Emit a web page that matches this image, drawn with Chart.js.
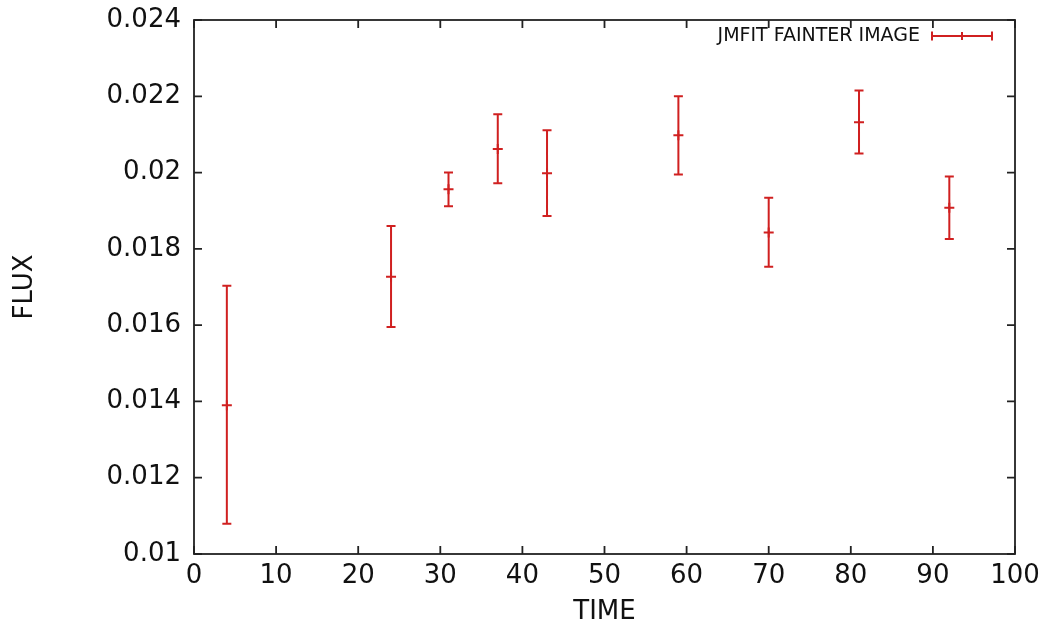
<!DOCTYPE html>
<html>
<head>
<meta charset="utf-8">
<script src="https://cdn.jsdelivr.net/npm/chart.js@4.4.0/dist/chart.umd.min.js"></script>
<style>
  html, body { margin: 0; padding: 0; background: #fff; }
  #wrap { width: 1051px; height: 628px; }
</style>
</head>
<body>
<div id="wrap"><canvas id="fluxChart" width="1051" height="628"></canvas></div>
<script>
  const times = [4, 24, 31, 37, 43, 59, 70, 81, 92];
  const flux = [0.0139, 0.01727, 0.01956, 0.02062, 0.01998, 0.02098, 0.01843, 0.02132, 0.01908];
  const fluxLow = [0.01079, 0.01595, 0.01912, 0.01972, 0.01886, 0.01995, 0.01753, 0.0205, 0.01826];
  const fluxHigh = [0.01703, 0.0186, 0.0200, 0.02153, 0.02111, 0.0220, 0.01934, 0.02215, 0.0199];
  const seriesName = "JMFIT FAINTER IMAGE";

  const red = "#d02020";
  const axisColor = "#222";
  const fontFamily = "'DejaVu Sans', sans-serif";

  // gnuplot-style frame with inward ticks on all four sides
  const framePlugin = {
    id: "frame",
    afterDraw(chart) {
      const { ctx, chartArea: a, scales } = chart;
      ctx.save();
      ctx.strokeStyle = axisColor;
      ctx.lineWidth = 1.8;
      ctx.strokeRect(a.left, a.top, a.right - a.left, a.bottom - a.top);
      const len = 8;
      ctx.beginPath();
      scales.x.ticks.forEach(t => {
        const px = scales.x.getPixelForValue(t.value);
        ctx.moveTo(px, a.bottom); ctx.lineTo(px, a.bottom - len);
        ctx.moveTo(px, a.top); ctx.lineTo(px, a.top + len);
      });
      scales.y.ticks.forEach(t => {
        const py = scales.y.getPixelForValue(t.value);
        ctx.moveTo(a.left, py); ctx.lineTo(a.left + len, py);
        ctx.moveTo(a.right, py); ctx.lineTo(a.right - len, py);
      });
      ctx.stroke();
      ctx.restore();
    }
  };

  // vertical error bars with caps, plus legend sample
  const errorBarPlugin = {
    id: "errorBars",
    afterDatasetsDraw(chart) {
      const { ctx, scales } = chart;
      const meta = chart.getDatasetMeta(0);
      const cap = 4.5;
      ctx.save();
      ctx.strokeStyle = red;
      ctx.lineWidth = 2;
      ctx.beginPath();
      meta.data.forEach((pt, i) => {
        const yLo = scales.y.getPixelForValue(fluxLow[i]);
        const yHi = scales.y.getPixelForValue(fluxHigh[i]);
        ctx.moveTo(pt.x, yLo); ctx.lineTo(pt.x, yHi);
        ctx.moveTo(pt.x - cap, yLo); ctx.lineTo(pt.x + cap, yLo);
        ctx.moveTo(pt.x - cap, yHi); ctx.lineTo(pt.x + cap, yHi);
      });
      ctx.stroke();

      // key in the top right corner
      const a = chart.chartArea;
      const ky = a.top + 16;
      const x0 = a.right - 83, x1 = a.right - 23;
      ctx.fillStyle = "#111";
      ctx.font = "19px " + fontFamily;
      ctx.textAlign = "right";
      ctx.textBaseline = "middle";
      ctx.fillText(seriesName, x0 - 12, ky);
      ctx.beginPath();
      ctx.moveTo(x0, ky); ctx.lineTo(x1, ky);
      ctx.moveTo(x0, ky - cap); ctx.lineTo(x0, ky + cap);
      ctx.moveTo(x1, ky - cap); ctx.lineTo(x1, ky + cap);
      const xm = (x0 + x1) / 2;
      ctx.moveTo(xm, ky - 4); ctx.lineTo(xm, ky + 4);
      ctx.stroke();
      ctx.restore();
    }
  };

  const ctx = document.getElementById("fluxChart").getContext("2d");
  new Chart(ctx, {
    type: "scatter",
    data: {
      datasets: [{
        label: seriesName,
        data: times.map((t, i) => ({ x: t, y: flux[i] })),
        pointStyle: "cross",
        pointRadius: 5,
        pointBorderWidth: 2,
        borderColor: red,
        backgroundColor: red,
        showLine: false
      }]
    },
    options: {
      responsive: false,
      animation: false,
      devicePixelRatio: 1,
      layout: { padding: { top: 20, right: 36, left: 0, bottom: 0 } },
      plugins: {
        legend: { display: false },
        tooltip: { enabled: false }
      },
      scales: {
        x: {
          type: "linear",
          min: 0,
          max: 100,
          grid: { display: false, drawTicks: false },
          border: { display: false },
          ticks: {
            stepSize: 10,
            padding: 7,
            color: "#111",
            font: { family: fontFamily, size: 26 }
          },
          title: {
            display: true,
            text: "TIME",
            color: "#111",
            padding: 0,
            font: { family: fontFamily, size: 26 }
          },
          afterFit(scale) { scale.height = 74; }
        },
        y: {
          min: 0.01,
          max: 0.024,
          grid: { display: false, drawTicks: false },
          border: { display: false },
          ticks: {
            stepSize: 0.002,
            padding: 13,
            color: "#111",
            font: { family: fontFamily, size: 26, lineHeight: 1 },
            callback: v => String(+v.toFixed(3))
          },
          title: {
            display: true,
            text: "FLUX",
            color: "#111",
            padding: { top: 10, bottom: 0 },
            font: { family: fontFamily, size: 26 }
          },
          afterFit(scale) {
            scale.width = 194;
            scale.paddingTop = 0;
          }
        }
      }
    },
    plugins: [framePlugin, errorBarPlugin]
  });
</script>
</body>
</html>
